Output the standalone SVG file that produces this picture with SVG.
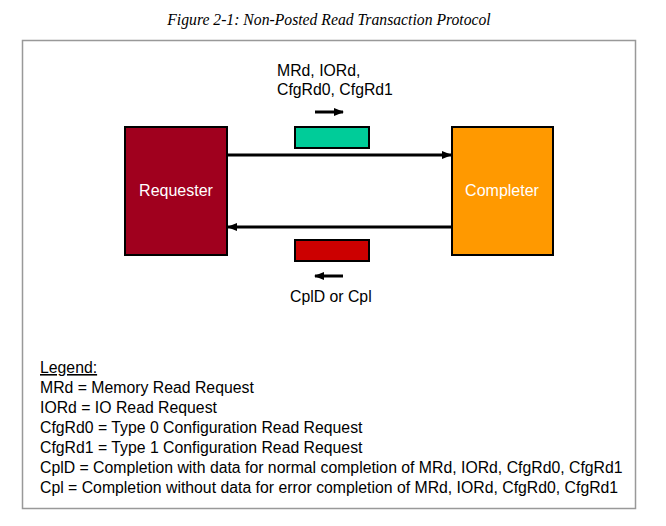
<svg xmlns="http://www.w3.org/2000/svg" width="666" height="526" viewBox="0 0 666 526">
<style>
.t{font-family:"Liberation Sans",Arial,sans-serif;font-size:15.8px;fill:#000}
.w{font-family:"Liberation Sans",Arial,sans-serif;font-size:16px;fill:#fff}
.title{font-family:"Liberation Serif","Times New Roman",serif;font-style:italic;font-size:15.7px;fill:#000}
.node{stroke:#000;stroke-width:2}
.conn{stroke:#000;stroke-width:3;fill:none}
</style>
<defs>
<marker id="ah" markerWidth="10" markerHeight="8" refX="9" refY="4" orient="auto" markerUnits="userSpaceOnUse">
<path d="M0,0 L10,4 L0,8 Z" fill="#000"/>
</marker>
</defs>
<rect width="666" height="526" fill="#fff"/>
<text class="title" x="329" y="25" text-anchor="middle">Figure 2-1: Non-Posted Read Transaction Protocol</text>
<rect x="22.5" y="40.5" width="613" height="468" fill="none" stroke="#999" stroke-width="1.5"/>
<g id="requester">
<rect class="node" x="125" y="127" width="102" height="128" fill="#A0001E"/>
<text class="w" x="176" y="196" text-anchor="middle">Requester</text>
</g>
<g id="completer">
<rect class="node" x="452" y="127" width="101" height="128" fill="#FF9900"/>
<text class="w" x="502" y="196" text-anchor="middle">Completer</text>
</g>
<g id="request-packet">
<rect class="node" x="295" y="127" width="74" height="21" fill="#00CC99"/>
<text class="t" x="277" y="76">MRd, IORd,</text>
<text class="t" x="277" y="95">CfgRd0, CfgRd1</text>
</g>
<g id="completion-packet">
<rect class="node" x="295" y="240" width="74" height="21" fill="#CC0000"/>
<text class="t" x="290" y="302">CplD or Cpl</text>
</g>
<g id="connectors">
<line class="conn" x1="227" y1="155" x2="451" y2="155" marker-end="url(#ah)"/>
<line class="conn" x1="452" y1="227" x2="228" y2="227" marker-end="url(#ah)"/>
<line class="conn" x1="315" y1="112" x2="343" y2="112" marker-end="url(#ah)"/>
<line class="conn" x1="343" y1="276" x2="315" y2="276" marker-end="url(#ah)"/>
</g>
<g id="legend">
<text class="t" x="40" y="373" text-decoration="underline">Legend:</text>
<text class="t" x="40" y="393">MRd = Memory Read Request</text>
<text class="t" x="40" y="413">IORd = IO Read Request</text>
<text class="t" x="40" y="433">CfgRd0 = Type 0 Configuration Read Request</text>
<text class="t" x="40" y="453">CfgRd1 = Type 1 Configuration Read Request</text>
<text class="t" x="40" y="473">CplD = Completion with data for normal completion of MRd, IORd, CfgRd0, CfgRd1</text>
<text class="t" x="40" y="493">Cpl = Completion without data for error completion of MRd, IORd, CfgRd0, CfgRd1</text>
</g>
</svg>
